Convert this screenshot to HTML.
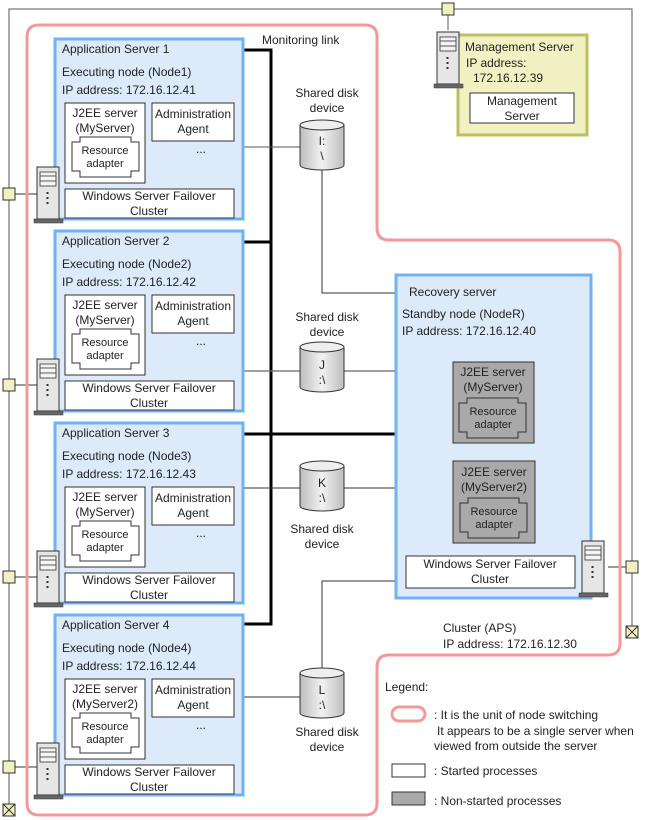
<!DOCTYPE html>
<html><head><meta charset="utf-8"><style>
html,body{margin:0;padding:0;background:#fff}
svg{display:block}
text{font-family:"Liberation Sans",Arial,sans-serif;font-size:12px;fill:#222}
</style></head><body>
<svg width="649" height="820" viewBox="0 0 649 820" xmlns="http://www.w3.org/2000/svg">
<defs>
<linearGradient id="cyl" x1="0" x2="1" y1="0" y2="0">
<stop offset="0" stop-color="#bdbdbd"/><stop offset="0.5" stop-color="#f2f2f2"/><stop offset="1" stop-color="#bdbdbd"/>
</linearGradient>
<g id="srv">
<rect x="3" y="0" width="22" height="52" fill="#e6e6e6" stroke="#333" stroke-width="1"/>
<rect x="6" y="5" width="16" height="14" fill="#f4f4f4" stroke="#333" stroke-width="0.8"/>
<line x1="6" y1="9" x2="22" y2="9" stroke="#333" stroke-width="0.8"/>
<line x1="6" y1="14" x2="22" y2="14" stroke="#333" stroke-width="0.8"/>
<rect x="12.5" y="25" width="2" height="2" fill="#333"/>
<rect x="12.5" y="30" width="2" height="2" fill="#333"/>
<rect x="12.5" y="35" width="2" height="2" fill="#333"/>
<rect x="0" y="52" width="29" height="4" fill="#666" stroke="#333" stroke-width="0.5"/>
</g>
<g id="sq"><rect x="-6" y="-6" width="12" height="12" fill="#f2f0c0" stroke="#333" stroke-width="1"/></g>
<g id="sqx"><rect x="-6" y="-6" width="12" height="12" fill="#f2f0c0" stroke="#333" stroke-width="1"/><path d="M-6 -6 L6 6 M6 -6 L-6 6" stroke="#333" stroke-width="1"/></g>
</defs>

<!-- network lines -->
<path d="M9 810 V9 H632 V632" fill="none" stroke="#555" stroke-width="1"/>
<line x1="448" y1="9" x2="448" y2="30" stroke="#555"/>
<line x1="15" y1="194" x2="38" y2="194" stroke="#333"/>
<line x1="15" y1="385" x2="38" y2="385" stroke="#333"/>
<line x1="15" y1="577" x2="38" y2="577" stroke="#333"/>
<line x1="15" y1="767" x2="38" y2="767" stroke="#333"/>
<line x1="608" y1="567" x2="627" y2="567" stroke="#333"/>

<!-- pink cluster boundary -->
<path d="M39 25 H365 Q377 25 377 37 V228 Q377 240 389 240 H608 Q620 240 620 252 V643 Q620 655 608 655 H389 Q377 655 377 667 V803 Q377 815 365 815 H39 Q27 815 27 803 V37 Q27 25 39 25 Z" fill="none" stroke="#f59898" stroke-width="3"/>

<!-- monitoring link -->
<path d="M243 50 H271 V624 H243 M243 242 H271 M243 434 H395" fill="none" stroke="#000" stroke-width="3"/>
<text x="262" y="44">Monitoring link</text>

<!-- thin lines to disks -->
<line x1="243" y1="147" x2="300" y2="147" stroke="#555"/>
<path d="M322 170 V293 H395" fill="none" stroke="#333"/>
<line x1="243" y1="371" x2="395" y2="371" stroke="#666" stroke-width="1.2"/>
<line x1="243" y1="488" x2="395" y2="488" stroke="#333"/>
<path d="M322 668 V581 H395" fill="none" stroke="#333"/>
<line x1="243" y1="697" x2="300" y2="697" stroke="#333"/>

<!-- disks -->
<g>
<path d="M300 125 V165 A22 5 0 0 0 344 165 V125" fill="url(#cyl)" stroke="#333"/>
<ellipse cx="322" cy="125" rx="22" ry="5" fill="#eee" stroke="#333"/>
<text x="322" y="145" text-anchor="middle">I:</text><text x="322" y="160" text-anchor="middle">\</text>
<text x="327" y="97" text-anchor="middle">Shared disk</text><text x="327" y="112" text-anchor="middle">device</text>
</g>
<g>
<path d="M300 347 V387 A22 5 0 0 0 344 387 V347" fill="url(#cyl)" stroke="#333"/>
<ellipse cx="322" cy="347" rx="22" ry="5" fill="#eee" stroke="#333"/>
<text x="322" y="369" text-anchor="middle">J</text><text x="322" y="384" text-anchor="middle">:\</text>
<text x="327" y="321" text-anchor="middle">Shared disk</text><text x="327" y="336" text-anchor="middle">device</text>
</g>
<g>
<path d="M300 466 V506 A22 5 0 0 0 344 506 V466" fill="url(#cyl)" stroke="#333"/>
<ellipse cx="322" cy="466" rx="22" ry="5" fill="#eee" stroke="#333"/>
<text x="322" y="487" text-anchor="middle">K</text><text x="322" y="502" text-anchor="middle">:\</text>
<text x="322" y="533" text-anchor="middle">Shared disk</text><text x="322" y="548" text-anchor="middle">device</text>
</g>
<g>
<path d="M300 673 V713 A22 5 0 0 0 344 713 V673" fill="url(#cyl)" stroke="#333"/>
<ellipse cx="322" cy="673" rx="22" ry="5" fill="#eee" stroke="#333"/>
<text x="322" y="694" text-anchor="middle">L</text><text x="322" y="709" text-anchor="middle">:\</text>
<text x="327" y="736" text-anchor="middle">Shared disk</text><text x="327" y="751" text-anchor="middle">device</text>
</g>

<!-- Application servers -->
<g transform="translate(0,0)">
<rect x="55" y="39" width="188" height="180" fill="#dceafa" stroke="#70b2f2" stroke-width="3"/>
<text x="62" y="53">Application Server 1</text>
<text x="62" y="76">Executing node (Node1)</text>
<text x="62" y="94">IP address: 172.16.12.41</text>
<rect x="65" y="103" width="80" height="80" fill="#fff" stroke="#333"/>
<text x="105" y="117" text-anchor="middle">J2EE server</text>
<text x="105" y="132" text-anchor="middle">(MyServer)</text>
<path d="M80 137 H131 V142 H139 V171 H131 V177 H80 V171 H72 V142 H80 Z" fill="#fff" stroke="#333"/>
<text x="105" y="154" text-anchor="middle" style="font-size:11px">Resource</text>
<text x="105" y="167" text-anchor="middle" style="font-size:11px">adapter</text>
<rect x="152" y="103" width="82" height="38" fill="#fff" stroke="#333"/>
<text x="193" y="118" text-anchor="middle">Administration</text>
<text x="193" y="133" text-anchor="middle">Agent</text>
<text x="201" y="153" text-anchor="middle">...</text>
<rect x="65" y="189" width="169" height="29" fill="#fff" stroke="#333"/>
<text x="149" y="200" text-anchor="middle">Windows Server Failover</text>
<text x="149" y="215" text-anchor="middle">Cluster</text>
<use href="#srv" x="34" y="167"/>
</g>
<g transform="translate(0,192)">
<rect x="55" y="39" width="188" height="180" fill="#dceafa" stroke="#70b2f2" stroke-width="3"/>
<text x="62" y="53">Application Server 2</text>
<text x="62" y="76">Executing node (Node2)</text>
<text x="62" y="94">IP address: 172.16.12.42</text>
<rect x="65" y="103" width="80" height="80" fill="#fff" stroke="#333"/>
<text x="105" y="117" text-anchor="middle">J2EE server</text>
<text x="105" y="132" text-anchor="middle">(MyServer)</text>
<path d="M80 137 H131 V142 H139 V171 H131 V177 H80 V171 H72 V142 H80 Z" fill="#fff" stroke="#333"/>
<text x="105" y="154" text-anchor="middle" style="font-size:11px">Resource</text>
<text x="105" y="167" text-anchor="middle" style="font-size:11px">adapter</text>
<rect x="152" y="103" width="82" height="38" fill="#fff" stroke="#333"/>
<text x="193" y="118" text-anchor="middle">Administration</text>
<text x="193" y="133" text-anchor="middle">Agent</text>
<text x="201" y="153" text-anchor="middle">...</text>
<rect x="65" y="189" width="169" height="29" fill="#fff" stroke="#333"/>
<text x="149" y="200" text-anchor="middle">Windows Server Failover</text>
<text x="149" y="215" text-anchor="middle">Cluster</text>
<use href="#srv" x="34" y="167"/>
</g>
<g transform="translate(0,384)">
<rect x="55" y="39" width="188" height="180" fill="#dceafa" stroke="#70b2f2" stroke-width="3"/>
<text x="62" y="53">Application Server 3</text>
<text x="62" y="76">Executing node (Node3)</text>
<text x="62" y="94">IP address: 172.16.12.43</text>
<rect x="65" y="103" width="80" height="80" fill="#fff" stroke="#333"/>
<text x="105" y="117" text-anchor="middle">J2EE server</text>
<text x="105" y="132" text-anchor="middle">(MyServer)</text>
<path d="M80 137 H131 V142 H139 V171 H131 V177 H80 V171 H72 V142 H80 Z" fill="#fff" stroke="#333"/>
<text x="105" y="154" text-anchor="middle" style="font-size:11px">Resource</text>
<text x="105" y="167" text-anchor="middle" style="font-size:11px">adapter</text>
<rect x="152" y="103" width="82" height="38" fill="#fff" stroke="#333"/>
<text x="193" y="118" text-anchor="middle">Administration</text>
<text x="193" y="133" text-anchor="middle">Agent</text>
<text x="201" y="153" text-anchor="middle">...</text>
<rect x="65" y="189" width="169" height="29" fill="#fff" stroke="#333"/>
<text x="149" y="200" text-anchor="middle">Windows Server Failover</text>
<text x="149" y="215" text-anchor="middle">Cluster</text>
<use href="#srv" x="34" y="167"/>
</g>
<g transform="translate(0,576)">
<rect x="55" y="39" width="188" height="180" fill="#dceafa" stroke="#70b2f2" stroke-width="3"/>
<text x="62" y="53">Application Server 4</text>
<text x="62" y="76">Executing node (Node4)</text>
<text x="62" y="94">IP address: 172.16.12.44</text>
<rect x="65" y="103" width="80" height="80" fill="#fff" stroke="#333"/>
<text x="105" y="117" text-anchor="middle">J2EE server</text>
<text x="105" y="132" text-anchor="middle">(MyServer2)</text>
<path d="M80 137 H131 V142 H139 V171 H131 V177 H80 V171 H72 V142 H80 Z" fill="#fff" stroke="#333"/>
<text x="105" y="154" text-anchor="middle" style="font-size:11px">Resource</text>
<text x="105" y="167" text-anchor="middle" style="font-size:11px">adapter</text>
<rect x="152" y="103" width="82" height="38" fill="#fff" stroke="#333"/>
<text x="193" y="118" text-anchor="middle">Administration</text>
<text x="193" y="133" text-anchor="middle">Agent</text>
<text x="201" y="153" text-anchor="middle">...</text>
<rect x="65" y="189" width="169" height="29" fill="#fff" stroke="#333"/>
<text x="149" y="200" text-anchor="middle">Windows Server Failover</text>
<text x="149" y="215" text-anchor="middle">Cluster</text>
<use href="#srv" x="34" y="167"/>
</g>

<!-- Recovery server -->
<rect x="396" y="275" width="195" height="323" fill="#dceafa" stroke="#70b2f2" stroke-width="3"/>
<text x="409" y="296">Recovery server</text>
<text x="402" y="318">Standby node (NodeR)</text>
<text x="402" y="335">IP address: 172.16.12.40</text>
<rect x="453" y="362" width="81" height="81" fill="#a9a9a9" stroke="#333"/>
<text x="493" y="376" text-anchor="middle">J2EE server</text>
<text x="493" y="391" text-anchor="middle">(MyServer)</text>
<path d="M467 398 H518 V403 H526 V432 H518 V438 H467 V432 H459 V403 H467 Z" fill="#a9a9a9" stroke="#333"/>
<text x="493" y="415" text-anchor="middle" style="font-size:11px">Resource</text>
<text x="493" y="428" text-anchor="middle" style="font-size:11px">adapter</text>
<rect x="453" y="461" width="82" height="82" fill="#a9a9a9" stroke="#333"/>
<text x="494" y="476" text-anchor="middle">J2EE server</text>
<text x="494" y="491" text-anchor="middle">(MyServer2)</text>
<path d="M468 498 H519 V503 H527 V532 H519 V538 H468 V532 H460 V503 H468 Z" fill="#a9a9a9" stroke="#333"/>
<text x="494" y="515" text-anchor="middle" style="font-size:11px">Resource</text>
<text x="494" y="528" text-anchor="middle" style="font-size:11px">adapter</text>
<rect x="406" y="556" width="169" height="32" fill="#fff" stroke="#333"/>
<text x="490" y="568" text-anchor="middle">Windows Server Failover</text>
<text x="490" y="583" text-anchor="middle">Cluster</text>
<use href="#srv" x="579" y="541"/>

<!-- Management server -->
<rect x="458" y="35" width="129" height="100" fill="#f1f1c4" stroke="#bcc060" stroke-width="3"/>
<text x="465" y="51">Management Server</text>
<text x="466" y="67">IP address:</text>
<text x="473" y="82">172.16.12.39</text>
<rect x="470" y="93" width="104" height="30" fill="#fff" stroke="#333"/>
<text x="522" y="105" text-anchor="middle">Management</text>
<text x="522" y="120" text-anchor="middle">Server</text>
<use href="#srv" x="434" y="32"/>

<!-- squares -->
<use href="#sq" x="448" y="9"/>
<use href="#sq" x="9" y="194"/>
<use href="#sq" x="9" y="385"/>
<use href="#sq" x="9" y="577"/>
<use href="#sq" x="9" y="767"/>
<use href="#sqx" x="9" y="810"/>
<use href="#sq" x="632" y="567"/>
<use href="#sqx" x="632" y="632"/>

<!-- cluster label -->
<text x="443" y="632">Cluster (APS)</text>
<text x="443" y="648">IP address: 172.16.12.30</text>

<!-- legend -->
<text x="385" y="691">Legend:</text>
<rect x="392" y="707" width="33" height="14" rx="7" fill="#fff" stroke="#f59898" stroke-width="3"/>
<text x="434" y="719">: It is the unit of node switching</text>
<text x="437" y="735">It appears to be a single server when</text>
<text x="434" y="750">viewed from outside the server</text>
<rect x="392" y="764" width="33" height="13" fill="#fff" stroke="#333"/>
<text x="434" y="775">: Started processes</text>
<rect x="392" y="792" width="33" height="13" fill="#a9a9a9" stroke="#333"/>
<text x="434" y="805">: Non-started processes</text>
</svg>
</body></html>
